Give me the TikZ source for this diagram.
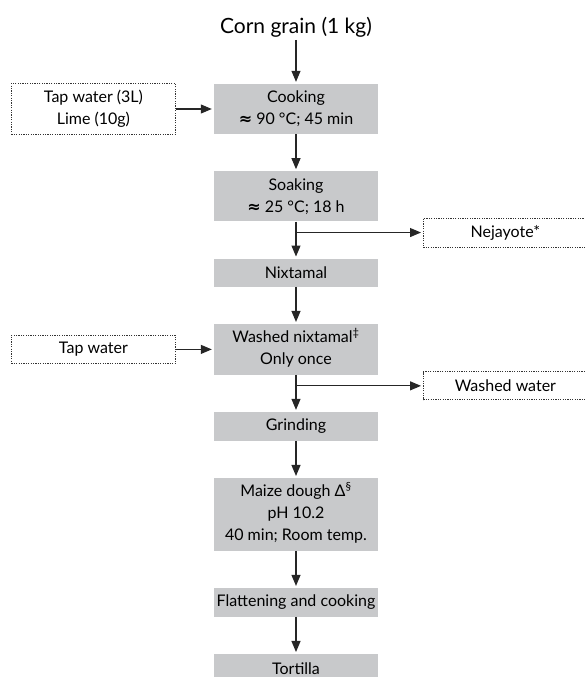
\documentclass[tikz,border=0pt]{standalone}
\usepackage{fontspec}
\setmainfont{Lato}
\newfontfamily\symfont{DejaVu Sans}
\usetikzlibrary{positioning,arrows.meta}
\definecolor{boxgray}{RGB}{200,201,203}
\newcommand{\approxsym}{{\symfont\bfseries ≈}}
\newcommand{\supmark}[1]{\smash{\textsuperscript{#1}}}

\begin{document}
\begin{tikzpicture}[x=1pt, y=-1pt, node distance=37pt,
    box/.style={minimum width=164pt, minimum height=28pt, inner xsep=0pt, inner ysep=7pt,
                align=center, font=\fontsize{16}{22}\selectfont},
    step node/.style={box, fill=boxgray},
    side node/.style={box, draw=black!80, line width=0.8pt, dash pattern=on 1.2pt off 1.2pt, fill=white},
    flow/.style={draw=black!85, line width=1.1pt, -{Triangle[length=11pt,width=9pt]}, shorten >=2pt}]

  \useasboundingbox (0,0) rectangle (585,677);

  \node[step node] (cook) at (296,109) {Cooking\\\approxsym{} 90 °C; 45 min};
  \node[step node] (soak) [below=of cook] {Soaking\\\approxsym{} 25 °C; 18 h};
  \node[step node] (nix) [below=of soak] {Nixtamal};
  \node[step node] (wash) [below=of nix] {Washed nixtamal\supmark{‡}\\Only once};
  \node[step node] (grind) [below=of wash] {Grinding};
  \node[step node] (dough) [below=of grind] {Maize dough Δ\supmark{§}\\pH 10.2\\40 min; Room temp.};
  \node[step node] (flat) [below=of dough] {Flattening and cooking};
  \node[step node] (tort) [below=of flat] {Tortilla};

  \node[font=\fontsize{21}{24}\selectfont, inner sep=2pt] (corn) [above=44pt of cook] {Corn grain (1 kg)};
  \node[side node] (lime) [left=38pt of cook] {Tap water (3L)\\Lime (10g)};
  \node[side node] (tap) [left=38pt of wash] {Tap water};

  \coordinate (b1) at ([yshift=-11pt]soak.south);
  \coordinate (b2) at ([yshift=-11pt]wash.south);
  \node[side node, anchor=west] (nej) at ([xshift=127pt]b1) {Nejayote*};
  \node[side node, anchor=west] (waste) at ([xshift=127pt]b2) {Washed water};

  \path[every edge/.style=flow]
    (corn) edge (cook)
    (cook) edge (soak)
    (soak) edge (nix)
    (nix) edge (wash)
    (wash) edge (grind)
    (grind) edge (dough)
    (dough) edge (flat)
    (flat) edge (tort)
    (lime) edge (cook)
    (tap) edge (wash)
    (b1) edge (nej)
    (b2) edge (waste)
;
\end{tikzpicture}
\end{document}
